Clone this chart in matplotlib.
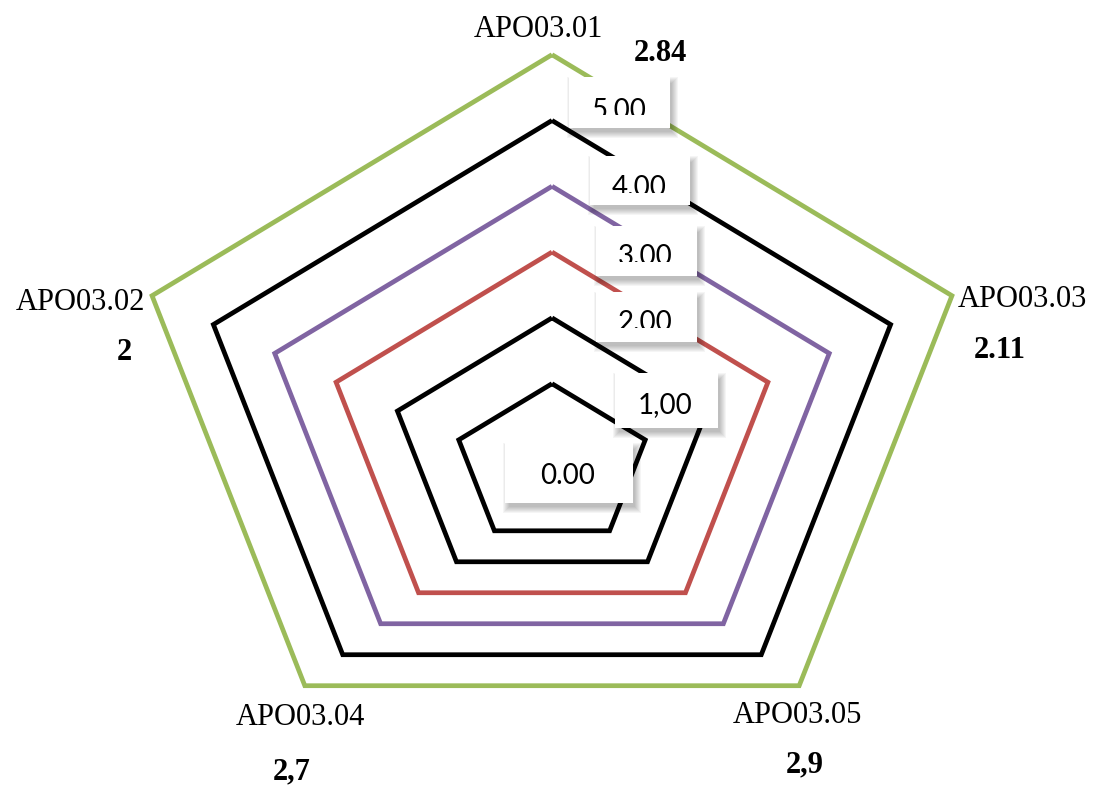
"""Nested pentagon radar (APO03 maturity levels) with boxed scale labels."""

import matplotlib
matplotlib.use("Agg")
import matplotlib.pyplot as plt
import numpy as np
from matplotlib.patches import Rectangle
from matplotlib.transforms import Bbox

# --- data -------------------------------------------------------------------
# Axis order going counter-clockwise from the top vertex.
categories = ["APO03.01", "APO03.02", "APO03.04", "APO03.05", "APO03.03"]
scores = ["2.84", "2", "2,7", "2,9", "2.11"]
levels = [0, 1, 2, 3, 4, 5]
level_labels = ["0.00", "1,00", "2.00", "3.00", "4.00", "5.00"]
level_colors = ["#000000", "#000000", "#C0504D", "#8064A2", "#000000", "#9BBB59"]

# --- layout (figure is laid out in pixel-like units, y pointing down) -------
W, H = 1094, 785
DPI = 100
CX, CY0 = 552, 465        # centre of the level-0 ring
UX, UY = 64.5, 53.5       # px per radial unit, horizontally / vertically
R_OFFSET = 1.52           # radius of the level-0 ring, in radial units
DRIFT = -12.3             # hand-drawn look: rings shift up as they grow

fig = plt.figure(figsize=(W / DPI, H / DPI), dpi=DPI, facecolor="white")
ax = fig.add_axes([0, 0, 1, 1])
ax.set_xlim(0, W)
ax.set_ylim(H, 0)
ax.set_axis_off()

theta = np.pi / 2 + np.arange(len(categories)) * 2 * np.pi / len(categories)
theta = np.append(theta, theta[0])

for lvl, color in zip(levels, level_colors):
    r = lvl + R_OFFSET
    xs = CX + UX * r * np.cos(theta)
    ys = CY0 + DRIFT * lvl - UY * r * np.sin(theta)
    ax.plot(xs, ys, color=color, lw=3.4, solid_joinstyle="miter",
            solid_capstyle="butt", zorder=2)

# --- axis names and scores --------------------------------------------------
serif = ["Liberation Serif", "DejaVu Serif"]
name_pos = {            # (x centre, baseline)
    "APO03.01": (538, 37), "APO03.02": (80, 310), "APO03.03": (1022, 307),
    "APO03.04": (300, 725), "APO03.05": (797, 723),
}
score_pos = {
    "APO03.01": (660, 61), "APO03.02": (124, 360), "APO03.03": (1000, 358),
    "APO03.04": (292, 779), "APO03.05": (805, 772),
}
for cat, sc in zip(categories, scores):
    x, y = name_pos[cat]
    ax.text(x, y, cat, ha="center", va="baseline", fontsize=22,
            family=serif, color="black", zorder=5)
    x, y = score_pos[cat]
    ax.text(x, y, sc, ha="center", va="baseline", fontsize=22,
            family=serif, fontweight="bold", color="black", zorder=5)

# --- boxed level labels (Word-style text boxes with soft shadow) ------------
# label -> (x0, y0, x1, y1, text x centre, baseline, clip bottom)
boxes = {
    "5.00": (569, 77, 670, 128, 619, 119, 115),
    "4.00": (590, 156, 690, 205, 639, 196, 193),
    "3.00": (596, 226, 697, 276, 645, 265, 262),
    "2.00": (596, 292, 697, 342, 645, 331, 328),
    "1,00": (615, 373, 718, 428, 665, 413, None),
    "0.00": (505, 443, 633, 503, 568, 484, None),
}
for lab in level_labels:
    x0, y0, x1, y1, tx, ty, clip = boxes[lab]
    w, h = x1 - x0, y1 - y0
    # soft drop shadow: stacked translucent rectangles shrinking inward
    for pad in range(6, -1, -1):
        ax.add_patch(Rectangle((x0 + 3 - pad + 1, y0 + 5 - pad + 1),
                               w + 2 * pad - 2, h + 2 * pad - 2,
                               facecolor="#000000", edgecolor="none",
                               alpha=0.04, zorder=3))
    ax.add_patch(Rectangle((x0, y0), w, h, facecolor="white",
                           edgecolor="none", zorder=3.5))
    t = ax.text(tx, ty, lab, ha="center", va="baseline", fontsize=20,
                family=["Lato", "DejaVu Sans"], color="black", zorder=4)
    if clip is not None:
        # Agg honours only a rectangular clip box for text (display pixels)
        t.set_clip_box(Bbox([[x0, H - clip], [x1, H - y0]]))
        t.set_clip_on(True)

fig.savefig("out.png", dpi=DPI, facecolor="white")
